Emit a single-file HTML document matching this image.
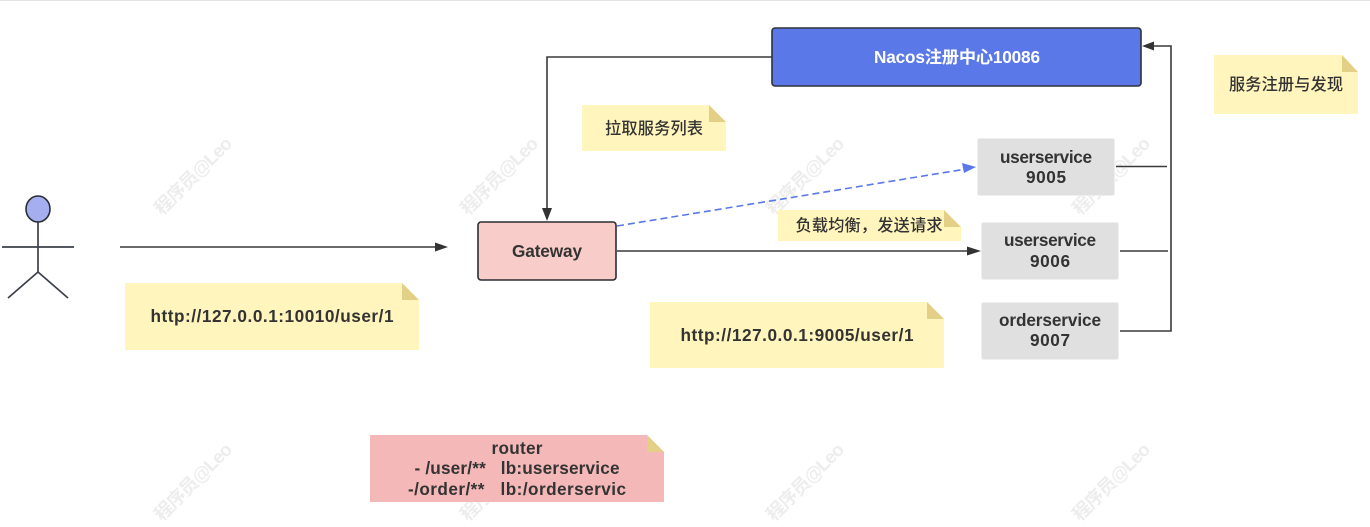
<!DOCTYPE html>
<html><head><meta charset="utf-8"><style>
html,body{margin:0;padding:0;background:#fff}
svg{display:block}
text{font-family:"Liberation Sans","Noto Sans CJK SC",sans-serif;font-size:17.2px;font-weight:bold;fill:#333;text-anchor:middle}
.cn{font-weight:500;font-size:16.2px;font-family:"Noto Sans CJK SC",sans-serif}
.wm{font-size:18.500px;font-weight:bold;fill:#ededed;text-anchor:start;font-family:"Liberation Sans","Noto Sans CJK SC",sans-serif}
</style></head><body>
<svg width="1370" height="527" viewBox="0 0 1370 527" xmlns="http://www.w3.org/2000/svg">
<rect width="1370" height="527" fill="#fff"/>
<rect x="0" y="0" width="1370" height="1" fill="#e4e4e4"/>
<g class="wms">
<text class="wm" textLength="101" transform="translate(162,216) rotate(-45)">程序员@Leo</text>
<text class="wm" textLength="101" transform="translate(468,216) rotate(-45)">程序员@Leo</text>
<text class="wm" textLength="101" transform="translate(774,216) rotate(-45)">程序员@Leo</text>
<text class="wm" textLength="101" transform="translate(1080,216) rotate(-45)">程序员@Leo</text>
<text class="wm" textLength="101" transform="translate(162,522) rotate(-45)">程序员@Leo</text>
<text class="wm" textLength="101" transform="translate(468,522) rotate(-45)">程序员@Leo</text>
<text class="wm" textLength="101" transform="translate(774,522) rotate(-45)">程序员@Leo</text>
<text class="wm" textLength="101" transform="translate(1080,522) rotate(-45)">程序员@Leo</text>
</g>

<!-- actor -->
<g stroke="#3c4048" stroke-width="1.7" fill="none">
<line x1="38" y1="221" x2="38" y2="272"/>
<line x1="2" y1="247" x2="74" y2="247"/>
<line x1="38" y1="272" x2="8" y2="298"/>
<line x1="38" y1="272" x2="68" y2="298"/>
</g>
<ellipse cx="38" cy="209" rx="12" ry="13" fill="#a5aff0" stroke="#2a2d33" stroke-width="1.6"/>

<!-- connectors -->
<g stroke="#3a3a3a" stroke-width="1.6" fill="none">
<line x1="120" y1="247" x2="438" y2="247"/>
<polyline points="772,57 547,57 547,212"/>
<line x1="617" y1="251" x2="970" y2="251"/>
<line x1="1116" y1="166.500" x2="1167" y2="166.500"/>
<line x1="1120" y1="251" x2="1168" y2="251"/>
<polyline points="1120,331 1171,331 1171,46 1152,46"/>
</g>
<line x1="617" y1="226" x2="966" y2="169" stroke="#5a78e8" stroke-width="1.6" stroke-dasharray="7 4"/>
<g fill="#333">
<polygon points="448,247 435,242.500 435,251.500"/>
<polygon points="547,221 542,208 552,208"/>
<polygon points="981,251 967,246.500 967,255.500"/>
<polygon points="1142,46 1154,41.500 1154,50.500"/>
</g>
<polygon points="976,167 962,163 964,173" fill="#5a78e8"/>

<!-- boxes -->
<rect x="772" y="28" width="369" height="58" rx="3" fill="#5a78e8" stroke="#2e323b" stroke-width="1.6"/>
<text x="957" y="63" style="fill:#fff" textLength="166">Nacos注册中心10086</text>
<rect x="478" y="222" width="138" height="58" rx="3" fill="#f8ccc9" stroke="#2a2d33" stroke-width="1.6"/>
<text x="547" y="257" textLength="70">Gateway</text>

<g fill="#e0e0e0" stroke="#efefef" stroke-width="1">
<rect x="977.500" y="138.500" width="137" height="57" rx="2"/>
<rect x="981.500" y="222.500" width="137" height="57" rx="2"/>
<rect x="981.500" y="302.500" width="137" height="57" rx="2"/>
</g>
<text x="1046" y="163" textLength="92">userservice</text>
<text x="1046" y="183" textLength="40">9005</text>
<text x="1050" y="246" textLength="92">userservice</text>
<text x="1050" y="267" textLength="40">9006</text>
<text x="1050" y="326" textLength="102">orderservice</text>
<text x="1050" y="346" textLength="40">9007</text>

<!-- notes -->
<g fill="#fff5bd">
<path d="M582,105H709L726,122V151H582Z"/>
<path d="M1214,55H1342L1358,72V114H1214Z"/>
<path d="M778,210H944L961,227V241H778Z"/>
<path d="M125,283H402L419,300V350H125Z"/>
<path d="M650,302H927L944,319V368H650Z"/>
</g>
<path d="M370,435H647L664,452V502H370Z" fill="#f5b8b8"/>
<g fill="#e3cf85">
<path d="M709,105L726,122H709Z"/>
<path d="M1342,55L1358,72H1342Z"/>
<path d="M944,210L961,227H944Z"/>
<path d="M402,283L419,300H402Z"/>
<path d="M927,302L944,319H927Z"/>
<path d="M647,435L664,452H647Z"/>
</g>
<text class="cn" x="654" y="134" textLength="98">拉取服务列表</text>
<text class="cn" x="1286" y="90" textLength="114">服务注册与发现</text>
<text class="cn" x="869" y="231" textLength="147">负载均衡，发送请求</text>
<text x="272" y="322" textLength="243">http://127.0.0.1:10010/user/1</text>
<text x="797" y="341" textLength="233">http://127.0.0.1:9005/user/1</text>
<text x="517" y="454" textLength="51">router</text>
<text x="517" y="474" textLength="205" xml:space="preserve">- /user/**   lb:userservice</text>
<text x="517" y="495" textLength="218" xml:space="preserve">-/order/**   lb:/orderservic</text>
</svg>
</body></html>
